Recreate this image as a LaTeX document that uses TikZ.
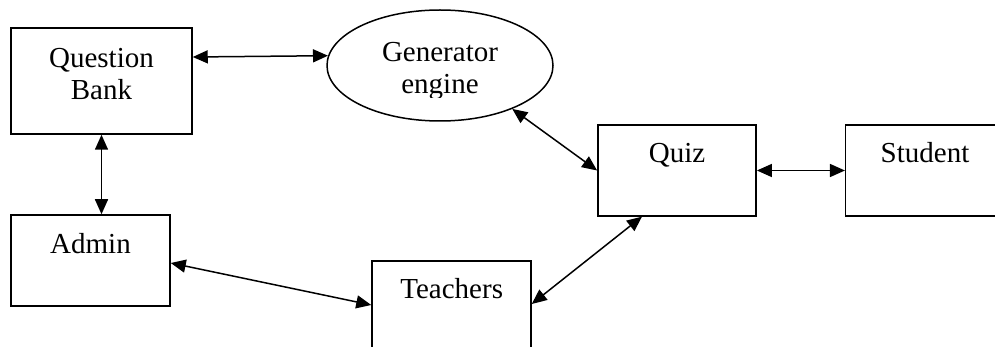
\documentclass[tikz,border=0pt]{standalone}
\usepackage{fontspec}
\setmainfont{Liberation Serif}
\usetikzlibrary{arrows.meta,shapes.geometric}
\tikzset{
  box/.style={draw, line width=1.5pt, rectangle, inner sep=0pt},
  oval/.style={draw, line width=1.5pt, ellipse, inner sep=0pt},
  txt/.style={inner sep=0pt, font=\fontsize{29}{32}\selectfont, align=center},
  link/.style={line width=1.5pt, {Triangle[length=15pt,width=13pt]}-{Triangle[length=15pt,width=13pt]}}
}
\begin{document}
\begin{tikzpicture}[x=1pt,y=-1pt]
\clip (0,0) rectangle (995,347);
% boxes
\node[box, minimum width=181pt, minimum height=106pt] (qb) at (101.5,81) {};
\node[box, minimum width=159pt, minimum height=91pt] (adm) at (90.5,260.5) {};
\node[box, minimum width=158.3pt, minimum height=90.7pt] (quiz) at (677,170.5) {};
\node[box, minimum width=154.3pt, minimum height=90.7pt] (stu) at (922.85,170.5) {};
\node[box, minimum width=159pt, minimum height=90pt] (tea) at (451.5,306) {};
\node[oval, minimum width=226pt, minimum height=111pt] (gen) at (440,65.5) {};
% texts
\node[txt, anchor=north] (qbt) at (101.5,48.4) {Question\\Bank};
\begin{scope}
\clip (320,20) rectangle (560,97.5);
\node[txt, anchor=north] (gent) at (440,42.4) {Generator\\engine};
\end{scope}
\node[txt, anchor=base] (quizt) at (677,163) {Quiz};
\node[txt, anchor=base] (stut) at (925,163) {Student};
\node[txt, anchor=base] (admt) at (90.5,254) {Admin};
\node[txt, anchor=base] (teat) at (451.7,298) {Teachers};
% connectors
\draw[link] ([yshift=24pt]qb.east) -- (gen.175.6);
\draw[link] (qb.south) -- (qb.south |- adm.north);
\draw[link] (gen.-31) -- (quiz.west);
\draw[link] (quiz.east) -- (stu.west);
\draw[link] ([xshift=-35pt]quiz.south) -- ([yshift=2pt]tea.east);
\draw[link] ([yshift=-2.5pt]adm.east) -- ([yshift=1pt]tea.west);
\end{tikzpicture}
\end{document}
